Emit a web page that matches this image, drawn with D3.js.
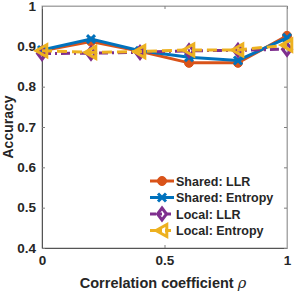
<!DOCTYPE html>
<html><head><meta charset="utf-8">
<script src="https://cdn.jsdelivr.net/npm/d3@7"></script>
<style>body{margin:0;background:#fff}svg{display:block}text{font-family:"Liberation Sans",Arial,sans-serif;font-weight:bold;fill:#262626}</style>
</head><body><svg id="c" width="294" height="294"></svg>
<script>
const xVals = [0, 0.2, 0.4, 0.6, 0.8, 1];
const sharedLLR = [0.889, 0.912, 0.888, 0.859, 0.859, 0.926];
const sharedEntropy = [0.891, 0.918, 0.889, 0.873, 0.865, 0.921];
const localLLR = [0.882, 0.883, 0.885, 0.889, 0.890, 0.893];
const localEntropy = [0.889, 0.885, 0.887, 0.891, 0.891, 0.903];
const seriesNames = ["Shared: LLR", "Shared: Entropy", "Local: LLR", "Local: Entropy"];
const xTicks = [0, 0.5, 1];
const yTicks = [0.4, 0.5, 0.6, 0.7, 0.8, 0.9, 1];

const series = [
  {name: seriesNames[0], vals: sharedLLR, color: "#D95319", dash: null, marker: "circle"},
  {name: seriesNames[1], vals: sharedEntropy, color: "#0072BD", dash: null, marker: "x"},
  {name: seriesNames[2], vals: localLLR, color: "#7E2F8E", dash: "9,4,2,4", marker: "diamond"},
  {name: seriesNames[3], vals: localEntropy, color: "#EDB120", dash: "10,5", marker: "tri"}
];

const L = 42, R = 287, T = 6, B = 248;
const svg = d3.select("#c");
const x = d3.scaleLinear().domain([0, 1]).range([L, R]);
const y = d3.scaleLinear().domain([0.4, 1]).range([B, T]);

svg.append("rect").attr("x", L).attr("y", T).attr("width", R - L).attr("height", B - T)
  .attr("fill", "none").attr("stroke", "#a8a8a8").attr("stroke-width", 1);

const gx = svg.append("g").attr("transform", `translate(0,${B})`)
  .call(d3.axisBottom(x).tickValues(xTicks).tickFormat(d3.format("")).tickSizeInner(-3).tickSizeOuter(0).tickPadding(7));
const gy = svg.append("g").attr("transform", `translate(${L},0)`)
  .call(d3.axisLeft(y).tickValues(yTicks).tickFormat(d => d === 1 ? "1" : d3.format(".1f")(d)).tickSizeInner(-3).tickSizeOuter(0).tickPadding(6));
const gyr = svg.append("g").attr("transform", `translate(${R},0)`)
  .call(d3.axisRight(y).tickValues(yTicks).tickFormat("").tickSizeInner(-3).tickSizeOuter(0));
const gxt = svg.append("g").attr("transform", `translate(0,${T})`)
  .call(d3.axisTop(x).tickValues(xTicks).tickFormat("").tickSizeInner(-3).tickSizeOuter(0));
[gx, gy, gyr, gxt].forEach(g => {
  g.select(".domain").attr("stroke", "#a8a8a8");
  g.selectAll(".tick line").attr("stroke", "#808080");
  g.selectAll("text").attr("font-size", 13.5).attr("font-weight", "bold").attr("fill", "#262626")
    .attr("font-family", "Liberation Sans, Arial, sans-serif");
});
gy.select(".domain").attr("stroke", "#555");
gx.select(".domain").attr("stroke", "#555");

svg.append("text").attr("transform", `translate(13,${(T + B) / 2}) rotate(-90)`)
  .attr("text-anchor", "middle").attr("font-size", 14).text("Accuracy");
const xl = svg.append("text").attr("x", 163).attr("y", 288).attr("text-anchor", "middle").attr("font-size", 14.5);
xl.append("tspan").text("Correlation coefficient ");
xl.append("tspan").attr("font-style", "italic").attr("font-weight", "normal").attr("font-family", "DejaVu Serif, serif").text("ρ");

function drawMarker(g, type, cx, cy, color) {
  if (type === "circle") {
    g.append("circle").attr("cx", cx).attr("cy", cy).attr("r", 4.5).attr("fill", color).attr("stroke", color).attr("stroke-width", 1);
  } else if (type === "x") {
    const s = 4;
    g.append("path").attr("d", `M${cx - s},${cy - s}L${cx + s},${cy + s}M${cx - s},${cy + s}L${cx + s},${cy - s}`)
      .attr("stroke", color).attr("stroke-width", 3).attr("fill", "none");
  } else if (type === "diamond") {
    const s = 6;
    g.append("path").attr("d", `M${cx},${cy - s}L${cx + s * 0.75},${cy}L${cx},${cy + s}L${cx - s * 0.75},${cy}Z`)
      .attr("stroke", color).attr("stroke-width", 3).attr("fill", "none");
  } else if (type === "tri") {
    const s = 6;
    g.append("path").attr("d", `M${cx - s},${cy}L${cx + s * 0.8},${cy - s}L${cx + s * 0.8},${cy + s}Z`)
      .attr("stroke", color).attr("stroke-width", 3).attr("fill", "none").attr("stroke-linejoin", "miter");
  }
}

const line = d3.line().x((d, i) => x(xVals[i])).y(d => y(d));
series.forEach(s => {
  const g = svg.append("g");
  g.append("path").datum(s.vals).attr("d", line).attr("fill", "none").attr("stroke", s.color)
    .attr("stroke-width", 3).attr("stroke-dasharray", s.dash);
  s.vals.forEach((v, i) => drawMarker(g, s.marker, x(xVals[i]), y(v), s.color));
});

const lg = svg.append("g");
const ly0 = 181, ldy = 16.5;
series.forEach((s, i) => {
  const yy = ly0 + i * ldy;
  lg.append("line").attr("x1", 150).attr("x2", 174).attr("y1", yy).attr("y2", yy)
    .attr("stroke", s.color).attr("stroke-width", 3).attr("stroke-dasharray", s.dash ? "6,3,3,3" : null);
  drawMarker(lg, s.marker, 162, yy, s.color);
  lg.append("text").attr("x", 176).attr("y", yy + 4.5).attr("font-size", 12.5).text(s.name);
});
</script></body></html>
